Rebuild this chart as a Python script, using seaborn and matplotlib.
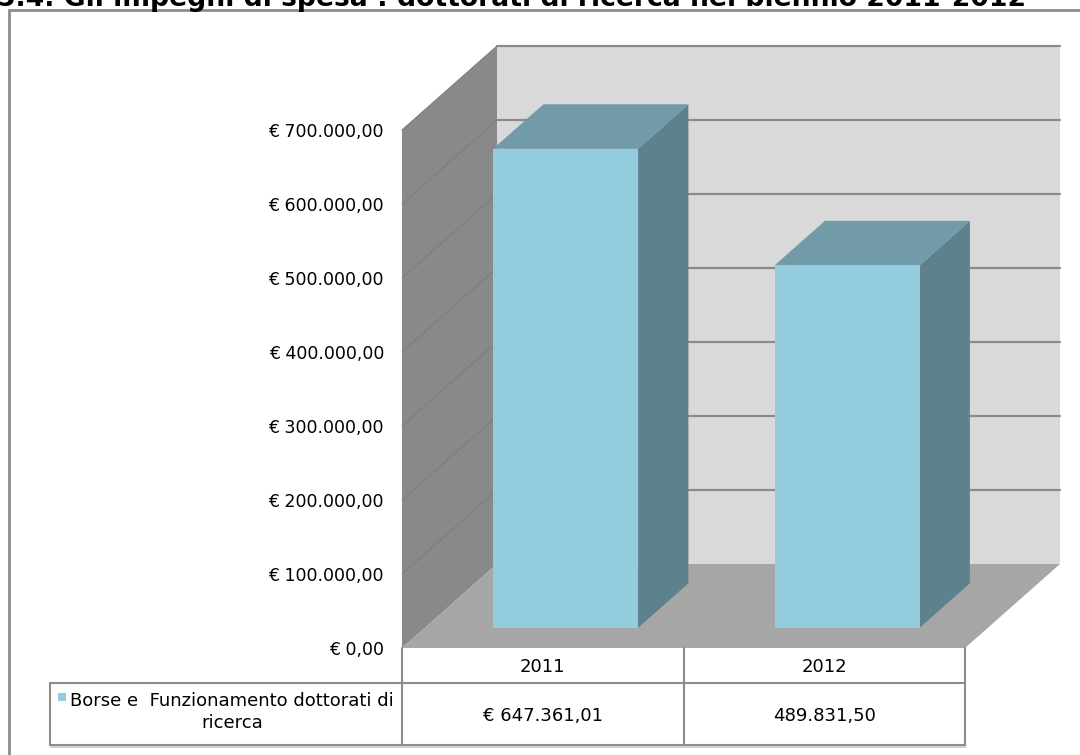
import matplotlib
matplotlib.use("Agg")
import matplotlib.pyplot as plt
from matplotlib.patches import Polygon, Rectangle
from matplotlib.lines import Line2D
from matplotlib.transforms import Affine2D, blended_transform_factory
import seaborn as sns
import pandas as pd

# --- data -------------------------------------------------------------
years = ["2011", "2012"]
values = [647361.01, 489831.50]
value_prefix = ["€ ", ""]
series_name = "Borse e  Funzionamento dottorati di\nricerca"
y_ticks = [0, 100000, 200000, 300000, 400000, 500000, 600000, 700000]
title = "5.4. Gli impegni di spesa : dottorati di ricerca nel biennio 2011-2012"

# --- style ------------------------------------------------------------
sns.set_theme(style="white")
plt.rcParams["font.family"] = ["DejaVu Sans"]
plt.rcParams["text.color"] = "black"
NARROW = ["DejaVu Sans"]

FRONT = "#93CDDD"
TOP = "#719BA8"
SIDE = "#5E828D"
BACK_WALL = "#D9D9D9"
LEFT_WALL = "#898989"
FLOOR = "#A6A6A6"
GRID = "#8A8A8A"
LINE = "#8C8C8C"

W, H = 1080, 755


def fx(px):
    return px / W


def fy(py):
    return (H - py) / H


def it_fmt(v, prefix="€ "):
    s = f"{v:,.2f}"
    s = s.replace(",", "X").replace(".", ",").replace("X", ".")
    return prefix + s


fig = plt.figure(figsize=(W / 100, H / 100), dpi=100)
fig.patch.set_facecolor("white")

# chart frame
fig.patches.append(Rectangle((fx(9), fy(H + 20)), fx(W + 20), fy(10) - fy(H + 20),
                             transform=fig.transFigure, facecolor="none",
                             edgecolor=LINE, lw=2, zorder=0))

fig.text(fx(-3), fy(6), title, fontsize=19.2, fontweight="bold",
         ha="left", va="baseline", color="black")

# front plane of the 3D box
ax = fig.add_axes([fx(402), fy(648), fx(965) - fx(402), fy(130) - fy(648)])
ax.set_facecolor("none")

df = pd.DataFrame({"year": years, "value": values})
sns.barplot(data=df, x="year", y="value", order=years, color=FRONT,
            saturation=1, width=0.515, ax=ax, zorder=5)

ax.set_xlim(-0.5, 1.5)
ax.set_ylim(0, 700000)
for s in ax.spines.values():
    s.set_visible(False)
ax.set_xticks([])
ax.set_xlabel("")
ax.set_ylabel("")
ax.set_yticks(y_ticks)
ax.set_yticklabels([it_fmt(v) for v in y_ticks], fontsize=12.5)
ax.tick_params(axis="y", length=0, pad=13, colors="black")

# oblique depth direction (data units per full depth)
DX = 0.3375
DY = 113514
D0, D1 = 0.24, 0.77
x_lo, x_hi = -0.5, 1.5
y_top = 700000

def poly(pts, color, z):
    p = Polygon(pts, closed=True, facecolor=color, edgecolor="none",
                zorder=z, clip_on=False)
    ax.add_patch(p)

# back wall, left wall, floor
poly([(x_lo + DX, DY), (x_hi + DX, DY), (x_hi + DX, y_top + DY), (x_lo + DX, y_top + DY)],
     BACK_WALL, 0)
poly([(x_lo, 0), (x_lo + DX, DY), (x_lo + DX, y_top + DY), (x_lo, y_top)], LEFT_WALL, 1)
poly([(x_lo, 0), (x_hi, 0), (x_hi + DX, DY), (x_lo + DX, DY)], FLOOR, 2)

# gridlines on the back and left walls
for v in y_ticks[1:]:
    ax.add_line(Line2D([x_lo + DX, x_hi + DX], [v + DY, v + DY], color=GRID,
                       lw=1.6, zorder=1.5, clip_on=False))
    ax.add_line(Line2D([x_lo, x_lo + DX], [v, v + DY], color="#7E7E7E",
                       lw=0.8, zorder=1.6, clip_on=False))

# bars: front faces from seaborn shifted into depth, plus top and side faces
shift = Affine2D().translate(D0 * DX, D0 * DY) + ax.transData
ddx, ddy = (D1 - D0) * DX, (D1 - D0) * DY
for i, patch in enumerate(ax.patches[:len(values)]):
    patch.set_transform(shift)
    patch.set_clip_on(False)
    patch.set_edgecolor("none")
    x0 = patch.get_x() + D0 * DX
    x1 = x0 + patch.get_width()
    y0 = D0 * DY
    y1 = patch.get_height() + D0 * DY
    poly([(x1, y0), (x1, y1), (x1 + ddx, y1 + ddy), (x1 + ddx, y0 + ddy)], SIDE, 4)
    poly([(x0, y1), (x1, y1), (x1 + ddx, y1 + ddy), (x0 + ddx, y1 + ddy)], TOP, 4)

# data table below the plot
bt = blended_transform_factory(ax.transData, fig.transFigure)
ft = fig.transFigure
row0, row1, row2 = fy(648), fy(683), fy(745)

def vline(x, ya, yb, tr=bt):
    fig.lines.append(Line2D([x, x], [ya, yb], transform=tr, color=LINE, lw=1.5))

for xb in (-0.5, 0.5, 1.5):
    vline(xb, row0, row2)
fig.lines.append(Line2D([fx(50), fx(965)], [row1, row1], transform=ft, color=LINE, lw=1.5))
fig.lines.append(Line2D([fx(50), fx(965)], [row2, row2], transform=ft, color=LINE, lw=1.5))
fig.lines.append(Line2D([fx(51), fx(966)], [fy(747), fy(747)], transform=ft, color="#C8C8C8", lw=1.2))
vline(fx(50), row1, row2, tr=ft)

for i, (yr, v, pre) in enumerate(zip(years, values, value_prefix)):
    fig.text(i, fy(667), yr, transform=bt, ha="center", va="center",
             fontsize=13, family=NARROW, color="black")
    fig.text(i, fy(716), it_fmt(v, pre), transform=bt, ha="center", va="center",
             fontsize=13, family=NARROW, color="black")

fig.patches.append(Rectangle((fx(58), fy(701)), fx(8), fy(693) - fy(701),
                             transform=ft, facecolor=FRONT, edgecolor="none"))
fig.text(fx(232), fy(712), series_name, ha="center", va="center",
         multialignment="center", fontsize=13, family=NARROW, linespacing=1.25,
         color="black")

fig.savefig("out.png", dpi=100)
